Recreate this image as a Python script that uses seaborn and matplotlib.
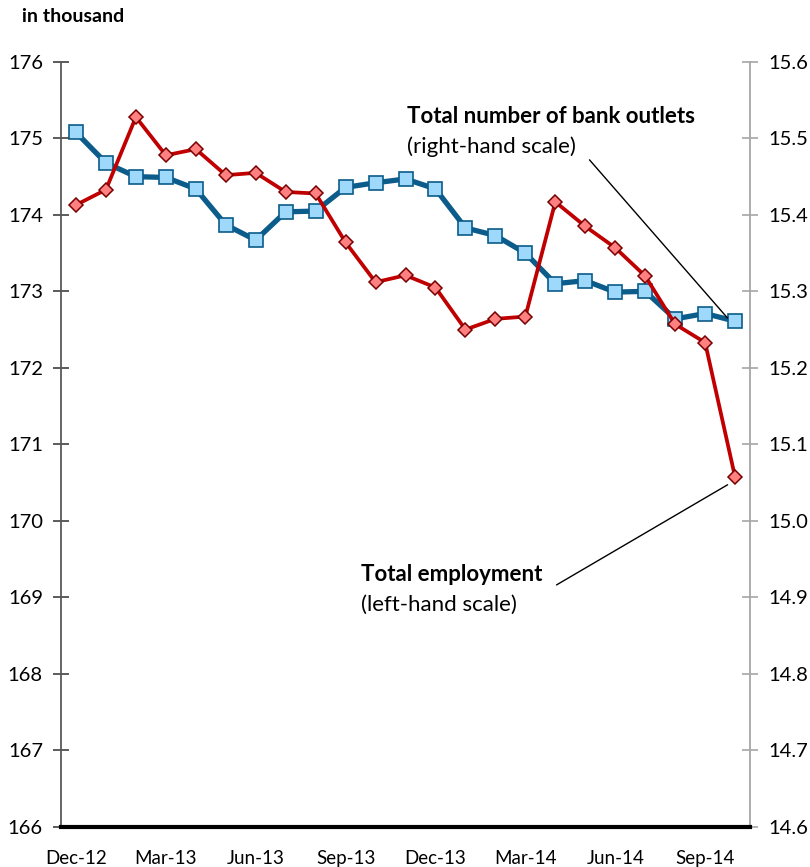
import matplotlib
matplotlib.use("Agg")
import matplotlib.pyplot as plt
import seaborn as sns
import numpy as np
import pandas as pd

months = ["Dec-12", "Jan-13", "Feb-13", "Mar-13", "Apr-13", "May-13", "Jun-13", "Jul-13",
          "Aug-13", "Sep-13", "Oct-13", "Nov-13", "Dec-13", "Jan-14", "Feb-14", "Mar-14",
          "Apr-14", "May-14", "Jun-14", "Jul-14", "Aug-14", "Sep-14", "Oct-14"]
tick_labels = ["Dec-12", "Mar-13", "Jun-13", "Sep-13", "Dec-13", "Mar-14", "Jun-14", "Sep-14"]

employment = [174.13, 174.33, 175.28, 174.78, 174.86, 174.52, 174.55, 174.30, 174.28,
              173.64, 173.12, 173.21, 173.05, 172.50, 172.64, 172.67, 174.17, 173.85,
              173.57, 173.20, 172.57, 172.33, 170.57]
outlets = [15.508, 15.468, 15.450, 15.449, 15.434, 15.387, 15.367, 15.404, 15.405,
           15.436, 15.442, 15.447, 15.434, 15.383, 15.373, 15.350, 15.310, 15.314,
           15.299, 15.300, 15.264, 15.271, 15.261]

sns.set_theme(style="white")
plt.rcParams['font.family'] = ['Lato', 'DejaVu Sans']
plt.rcParams['text.color'] = 'black'

df = pd.DataFrame({"idx": np.arange(len(months)), "month": months,
                   "employment": employment, "outlets": outlets})

fig = plt.figure(figsize=(8.1, 8.67), dpi=100)
ax = fig.add_axes([0.0753, 0.0467, 0.926 - 0.0753, 0.9285 - 0.0467])
ax2 = ax.twinx()

sns.lineplot(data=df, x="idx", y="outlets", ax=ax2, color="#0B5C8A", linewidth=3.8,
             marker="s", markersize=9.5, markerfacecolor="#9ED8FA",
             markeredgecolor="#0B5C8A", markeredgewidth=1.2)
sns.lineplot(data=df, x="idx", y="employment", ax=ax, color="#C00000", linewidth=2.7,
             marker="D", markersize=7, markerfacecolor="#FF8080",
             markeredgecolor="#7A0000", markeredgewidth=1.1)

ax.set_zorder(ax2.get_zorder() + 1)
ax.patch.set_visible(False)

ax.set_xlim(-0.5, len(months) - 0.5)
ax.set_ylim(166, 176)
ax2.set_ylim(14.6, 15.6)
ax.set_yticks(np.arange(166, 177, 1))
ax.set_yticklabels([str(v) for v in range(166, 177)])
ax2.set_yticks(np.round(np.arange(14.6, 15.61, 0.1), 1))
ax2.set_yticklabels([f"{v:.1f}" for v in np.arange(14.6, 15.61, 0.1)])
ax.set_xticks([months.index(m) for m in tick_labels])
ax.set_xticklabels(tick_labels)
ax.set_xlabel("")
ax.set_ylabel("")
ax2.set_xlabel("")
ax2.set_ylabel("")

for a in (ax, ax2):
    a.spines["top"].set_visible(False)
ax.spines["right"].set_visible(False)
ax.spines["left"].set_color("#595959")
ax.spines["left"].set_linewidth(1.3)
ax2.spines["left"].set_visible(False)
ax2.spines["bottom"].set_visible(False)
ax2.spines["right"].set_color("#A6A6A6")
ax2.spines["right"].set_linewidth(1.3)
ax.spines["bottom"].set_color("black")
ax.spines["bottom"].set_linewidth(3)

ax.tick_params(axis="y", which="major", direction="inout", length=12, width=1.2,
               colors="#404040", labelcolor="black", labelsize=14.5, pad=7, left=True)
ax2.tick_params(axis="y", which="major", direction="inout", length=12, width=1.2,
                colors="#A6A6A6", labelcolor="black", labelsize=14.5, pad=7, right=True)
ax.tick_params(axis="x", length=0, labelsize=13.5, pad=17, colors="black")

fig.text(0.027, 0.981, "in thousand", fontsize=14, fontweight="bold", ha="left",
         va="center", color="black")

ax.text(11.06, 175.29, "Total number of bank outlets", fontsize=16, fontweight="bold",
        ha="left", va="center", color="black")
ax.text(11.06, 174.89, "(right-hand scale)", fontsize=16, ha="left", va="center", color="black")
ax.text(9.52, 169.29, "Total employment", fontsize=16, fontweight="bold",
        ha="left", va="center", color="black")
ax.text(9.52, 168.90, "(left-hand scale)", fontsize=16, ha="left", va="center", color="black")

ax.plot([17.14, 21.75], [174.72, 172.65], color="black", linewidth=1.0)
ax.plot([21.75, 16.04], [170.47, 169.16], color="black", linewidth=1.0)

fig.savefig("out.png", dpi=100)
